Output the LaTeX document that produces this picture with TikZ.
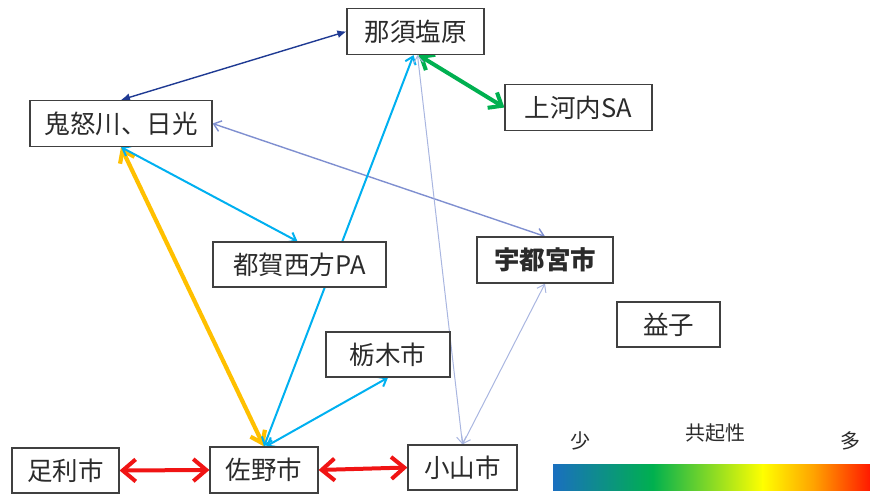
\documentclass[tikz,border=0pt]{standalone}
\usepackage{fontspec}
\setmainfont{Noto Sans CJK JP}
\usetikzlibrary{arrows.meta,backgrounds}
\definecolor{navyc}{HTML}{1F3A93}
\definecolor{greenc}{HTML}{00B050}
\definecolor{orangec}{HTML}{FFC000}
\definecolor{cyanc}{HTML}{00B0F0}
\definecolor{slatec}{HTML}{7F8FD0}
\definecolor{lightc}{HTML}{A9B6E0}
\definecolor{redc}{HTML}{F01414}
\definecolor{boxc}{HTML}{404040}
\definecolor{textc}{HTML}{2B2B2B}
\definecolor{gblue}{HTML}{1A6FBF}
\definecolor{ggreen}{HTML}{00B04F}
\definecolor{gyellow}{HTML}{FFFF00}
\definecolor{gorange}{HTML}{FFA000}
\definecolor{gred}{HTML}{FF1A00}
\tikzset{
  place/.style={draw=boxc, line width=1.2pt, fill=white, text=textc, font=\fontsize{25.5}{27}\selectfont, inner sep=0pt, minimum height=46pt},
  legtext/.style={text=textc, font=\fontsize{20}{22}\selectfont, inner sep=0pt},
  lnavy/.style={draw=navyc, line width=1.4pt, {Latex[length=9pt,width=8pt]}-{Latex[length=9pt,width=8pt]}},
  lgreen/.style={draw=greenc, line width=4pt, {Straight Barb[length=11pt,width=18pt]}-{Straight Barb[length=11pt,width=18pt]}},
  lorange/.style={draw=orangec, line width=4.2pt, {Straight Barb[length=11pt,width=16pt]}-{Straight Barb[length=11pt,width=16pt]}},
  lcyan/.style={draw=cyanc, line width=2pt, {Straight Barb[length=7pt,width=11pt]}-{Straight Barb[length=7pt,width=11pt]}},
  lslate/.style={draw=slatec, line width=1.4pt, {Straight Barb[length=7pt,width=11pt]}-{Straight Barb[length=7pt,width=11pt]}},
  llight/.style={draw=lightc, line width=1pt, {Straight Barb[length=7pt,width=10pt]}-{Straight Barb[length=7pt,width=10pt]}},
  lred/.style={draw=redc, line width=4pt, {Straight Barb[length=13pt,width=22pt]}-{Straight Barb[length=13pt,width=22pt]}},
}
\begin{document}
\begin{tikzpicture}[x=1pt,y=-1pt]
\useasboundingbox (0,0) rectangle (870,494);
\node[place, minimum width=137pt] (nasu) at (415.5,31.5) {那須塩原};
\node[place, minimum width=182pt] (kinu) at (121,123.5) {鬼怒川、日光};
\node[place, minimum width=147pt] (kami) at (578.5,107.5) {上河内SA};
\node[place, minimum width=173pt, minimum height=45pt] (tsuga) at (299.5,264.5) {都賀西方PA};
\node[place, minimum width=136pt] (utsu) at (545,260) {\bfseries 宇都宮市};
\node[place, minimum width=103pt, minimum height=45pt] (mashiko) at (668.5,324.5) {益子};
\node[place, minimum width=124pt, minimum height=45pt] (tochigi) at (388,354.5) {栃木市};
\node[place, minimum width=107pt, minimum height=45pt] (ashi) at (65.5,470.5) {足利市};
\node[place, minimum width=108pt] (sano) at (264,470) {佐野市};
\node[place, minimum width=109pt, minimum height=45pt] (oyama) at (462.5,467.5) {小山市};

\begin{scope}[on background layer]
\draw[lnavy] (kinu.north) -- (nasu.west);
\draw[lgreen] ([xshift=3pt]nasu.south) -- (kami.west);
\draw[lslate] (kinu.east) -- (utsu.north);
\draw[lorange] (kinu.south) -- (sano.north);
\draw[lcyan] (kinu.south) -- ([xshift=-2pt]tsuga.north);
\draw[lcyan] (sano.north) -- ([xshift=-2pt]nasu.south);
\draw[lcyan] ([xshift=2pt]sano.north) -- (tochigi.south);
\draw[llight] ([xshift=2pt]nasu.south) -- (oyama.north);
\draw[llight] (utsu.south) -- (oyama.north);
\draw[lred] (ashi.east) -- (sano.west);
\draw[lred] (sano.east) -- (oyama.west);
\end{scope}

\shade[left color=gblue, right color=ggreen] (553,464) rectangle (653,490);
\shade[left color=ggreen, right color=gyellow] (652.5,464) rectangle (763,490);
\shade[left color=gyellow, right color=gorange] (762.5,464) rectangle (815,490);
\shade[left color=gorange, right color=gred] (814.5,464) rectangle (870,490);
\node[legtext] (few) at (580,441) {少};
\node[legtext] (kyoki) at (715,433) {共起性};
\node[legtext] (many) at (850,441) {多};
\end{tikzpicture}
\end{document}
